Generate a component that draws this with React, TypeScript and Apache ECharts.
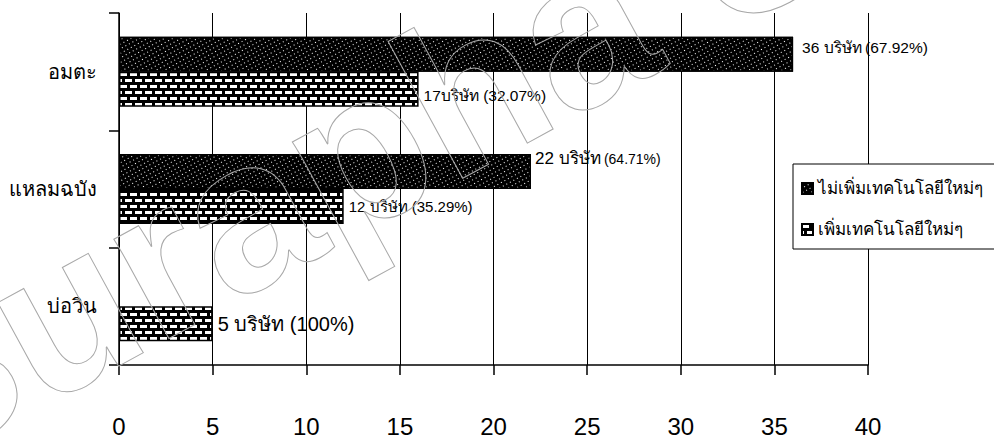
import React, { useEffect, useRef } from "react";
import * as echarts from "echarts";

// categories listed bottom → top (ECharts category y-axis order)
const categories = ["บ่อวิน", "แหลมฉบัง", "อมตะ"];
const seriesNames = ["ไม่เพิ่มเทคโนโลยีใหม่ๆ", "เพิ่มเทคโนโลยีใหม่ๆ"];
const noNewTech = [0, 22, 36];
const newTech = [5, 12, 16];
const noNewTechCount = ["", "22 บริษัท", "36 บริษัท"];
const noNewTechPct = ["", "(64.71%)", "(67.92%)"];
const newTechLabels = ["5 บริษัท (100%)", "12 บริษัท (35.29%)", "17บริษัท (32.07%)"];
const xTicks = [0, 5, 10, 15, 20, 25, 30, 35, 40];

const FONT = "'Liberation Sans', Arial, sans-serif";

function makeBrickTile(): HTMLCanvasElement {
  const c = document.createElement("canvas");
  c.width = 10;
  c.height = 12;
  const g = c.getContext("2d")!;
  g.fillStyle = "#000";
  g.fillRect(0, 0, 10, 12);
  g.fillStyle = "#fff";
  g.fillRect(0, 1, 7, 3);
  g.fillRect(0, 7, 2, 3);
  g.fillRect(5, 7, 5, 3);
  return c;
}

export default function App() {
  const ref = useRef<HTMLDivElement>(null);
  useEffect(() => {
    if (!ref.current) return;
    const chart = echarts.init(ref.current, undefined, { renderer: "svg" });

    const darkDecal = {
      symbol: "rect",
      symbolSize: 1,
      symbolKeepAspect: false,
      color: "#ffffff",
      backgroundColor: "#000000",
      dashArrayX: [1, 3],
      dashArrayY: [1, 3],
      rotation: -0.5,
    };
    const brickPattern = { image: makeBrickTile(), repeat: "repeat" };

    const darkOffsets = [0, -13, -7];
    const darkShift = [0, 0, 5];
    const lightOffsets = [0, 0, 6];
    const darkSizes = [14, 17, 15.5];
    const darkPctSizes = [14, 14, 15.5];
    const lightSizes = [20, 15, 15.5];

    const option: any = {
      animation: false,
      backgroundColor: "#ffffff",
      textStyle: { fontFamily: FONT, color: "#000" },
      grid: { left: 119, right: 126, top: 13, bottom: 74, containLabel: false },
      legend: {
        data: seriesNames,
        orient: "vertical",
        left: 793,
        top: 164,
        icon: "rect",
        itemWidth: 11,
        itemHeight: 11,
        itemGap: 24,
        padding: [16, 90, 11, 8],
        backgroundColor: "#ffffff",
        borderColor: "#000000",
        borderWidth: 1,
        textStyle: { fontSize: 17, color: "#000", fontFamily: FONT },
      },
      xAxis: {
        type: "value",
        min: xTicks[0],
        max: xTicks[xTicks.length - 1],
        interval: xTicks[1] - xTicks[0],
        axisLine: { show: true, lineStyle: { color: "#000", width: 1.5 } },
        axisTick: { show: true, length: 10, lineStyle: { color: "#000", width: 1.5 } },
        axisLabel: { fontSize: 24, color: "#000", margin: 49, fontFamily: FONT },
        splitLine: { show: true, lineStyle: { color: "#000", width: 1 } },
      },
      yAxis: {
        type: "category",
        data: categories,
        axisLine: { show: true, lineStyle: { color: "#000", width: 1.5 } },
        axisTick: { show: true, length: 10, lineStyle: { color: "#000", width: 1.5 } },
        axisLabel: { fontSize: 20, color: "#000", margin: 22, fontFamily: FONT },
      },
      series: [
        {
          name: seriesNames[0],
          type: "bar",
          barWidth: 35,
          barGap: "0%",
          itemStyle: { color: "#000", borderColor: "#000", borderWidth: 1.5, decal: darkDecal },
          label: { show: true, position: "right", distance: 4, color: "#000" },
          data: noNewTech.map((v, i) => ({
            value: v,
            itemStyle: v === 0 ? { borderWidth: 0 } : undefined,
            label: {
              show: v !== 0,
              formatter: `{a|${noNewTechCount[i]}} {b|${noNewTechPct[i]}}`,
              offset: [darkShift[i], darkOffsets[i]],
              rich: {
                a: { fontSize: darkSizes[i], color: "#000", fontFamily: FONT },
                b: { fontSize: darkPctSizes[i], color: "#000", fontFamily: FONT },
              },
            },
          })),
        },
        {
          name: seriesNames[1],
          type: "bar",
          barWidth: 35,
          barGap: "0%",
          itemStyle: { color: brickPattern, borderColor: "#000", borderWidth: 1.5 },
          label: { show: true, position: "right", distance: 5, color: "#000" },
          data: newTech.map((v, i) => ({
            value: v,
            label: {
              show: true,
              formatter: newTechLabels[i],
              fontSize: lightSizes[i],
              offset: [0, lightOffsets[i]],
            },
          })),
        },
      ],
      graphic: [
        {
          type: "text",
          x: -80,
          y: 512,
          rotation: 0.5,
          z: 100,
          silent: true,
          style: {
            text: "Burapha U",
            fontSize: 215,
            fontWeight: "bold",
            fontFamily: FONT,
            fill: "none",
            stroke: "#a8a8a8",
            lineWidth: 1,
            textVerticalAlign: "bottom",
          },
        },
      ],
    };
    chart.setOption(option);
    return () => chart.dispose();
  }, []);
  return (
    <div
      ref={ref}
      style={{ position: "fixed", left: 0, top: 0, width: 994, height: 439, background: "#fff" }}
    />
  );
}
